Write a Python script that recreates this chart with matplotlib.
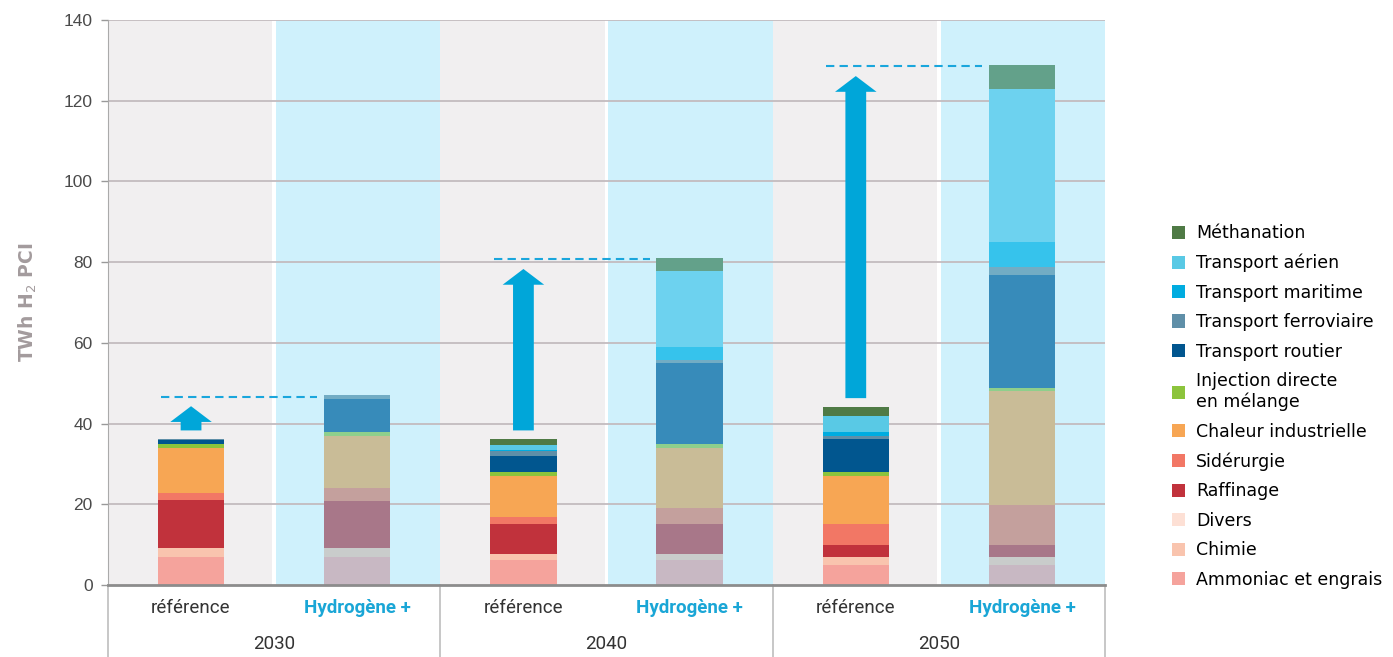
import matplotlib.pyplot as plt
import matplotlib.transforms as mtransforms
from matplotlib.patches import Patch
import numpy as np

# columns: référence / Hydrogène + for 2030, 2040, 2050
years = ['2030', '2040', '2050']
scenarios = ['référence', 'Hydrogène +']

categories = ['Ammoniac et engrais', 'Chimie', 'Divers', 'Raffinage', 'Sidérurgie',
              'Chaleur industrielle', 'Injection directe\nen mélange', 'Transport routier',
              'Transport ferroviaire', 'Transport maritime', 'Transport aérien', 'Méthanation']

ammoniac = [7.0, 7.0, 6.2, 6.2, 4.9, 4.9]
chimie = [2.1, 2.1, 1.6, 1.6, 2.0, 2.0]
divers = [0.0, 0.0, 0.0, 0.0, 0.0, 0.0]
raffinage = [12.0, 11.7, 7.3, 7.3, 3.1, 3.1]
siderurgie = [1.8, 3.3, 1.8, 4.1, 5.0, 9.8]
chaleur = [11.1, 12.9, 10.2, 14.8, 11.9, 28.2]
injection = [0.9, 0.8, 0.9, 0.9, 1.0, 0.9]
routier = [1.0, 8.2, 3.9, 20.0, 8.2, 28.0]
ferroviaire = [0.2, 1.1, 1.2, 0.9, 0.8, 2.0]
maritime = [0.0, 0.0, 0.4, 3.2, 1.0, 6.0]
aerien = [0.0, 0.0, 1.3, 18.8, 4.0, 38.1]
methanation = [0.0, 0.0, 1.3, 3.3, 2.2, 5.9]

series = [ammoniac, chimie, divers, raffinage, siderurgie, chaleur,
          injection, routier, ferroviaire, maritime, aerien, methanation]

# colours for "référence" bars (also legend) and muted ones for "Hydrogène +"
ref_colors = ['#f5a39c', '#f9c4ae', '#fde0d5', '#c1323c', '#f27765', '#f7a654',
              '#8cc43c', '#01568f', '#5f8fa8', '#00ace0', '#59c9e5', '#4f7a45']
h2_colors = ['#c8b8c3', '#c9cccb', '#e6dcdc', '#a87789', '#c4a09d', '#c9bc97',
             '#8ecf8c', '#378bba', '#72acc4', '#36c3ec', '#6dd2ef', '#63a18a']

fig = plt.figure(figsize=(13.93, 6.57), dpi=100)
ax = fig.add_axes([0.0775, 0.1096, 0.7158, 0.86])

x = np.arange(6) + 0.5
bar_w = 0.40

# panel backgrounds
for i in range(6):
    if i % 2 == 0:
        ax.axvspan(i, i + 0.99, color='#f1eff0', zorder=0, lw=0)
    else:
        ax.axvspan(i + 0.01, i + 1, color='#cff1fc', zorder=0, lw=0)

for yv in range(20, 141, 20):
    ax.axhline(yv, color='#c3bbbf', lw=1.3, zorder=1)

bottom = np.zeros(6)
for vals, rc, hc in zip(series, ref_colors, h2_colors):
    vals = np.array(vals)
    cols = [rc if i % 2 == 0 else hc for i in range(6)]
    ax.bar(x, vals, bar_w, bottom=bottom, color=cols, lw=0, zorder=3)
    bottom += vals
totals = bottom

# arrows and dashed lines
for k in range(3):
    r, h = 2 * k, 2 * k + 1
    y0 = totals[r] + 2.2
    y1 = totals[h] - 2.8
    ax.arrow(x[r], y0, 0, y1 - y0, width=0.125, head_width=0.25, head_length=3.9,
             length_includes_head=True, color='#00a6d9', lw=0, zorder=4)
    ax.plot([x[r] - bar_w / 2 + 0.02, x[h] - bar_w / 2 - 0.04], [totals[h] - 0.4] * 2,
            color='#1aa6dc', lw=1.5, dashes=(4, 2.5), zorder=4)

ax.set_xlim(0, 6)
ax.set_ylim(0, 140)
ax.set_yticks(range(0, 141, 20))
ax.set_xticks([])
ax.tick_params(axis='y', labelsize=12.5, labelcolor='#4a4a4a', color='#999999',
               length=5, width=1, pad=6)
for lab in ax.get_yticklabels():
    lab.set_family('Liberation Sans')
for s in ['top', 'right']:
    ax.spines[s].set_visible(False)
ax.spines['left'].set_color('#aaaaaa')
ax.spines['bottom'].set_color('#8c8c8c')
ax.spines['bottom'].set_linewidth(2)
ax.spines['bottom'].set_zorder(5)

ax.set_ylabel('TWh H$_2$ PCI', fontsize=13.5, fontweight='bold', color='#a39b9d', labelpad=18)

# category axis labels
trans = mtransforms.blended_transform_factory(ax.transData, ax.transAxes)
for i in range(6):
    if i % 2 == 0:
        ax.text(x[i], -0.04, scenarios[0], transform=trans, ha='center', va='center',
                fontsize=13.5, color='#333333', family='Roboto', clip_on=False)
    else:
        ax.text(x[i], -0.04, scenarios[1], transform=trans, ha='center', va='center',
                fontsize=13.5, color='#1aa6d6', family='Roboto', fontweight='bold', clip_on=False)
for k, yr in enumerate(years):
    ax.text(2 * k + 1, -0.105, yr, transform=trans, ha='center', va='center',
            fontsize=13.5, color='#333333', family='Roboto', clip_on=False)
for xs in [0, 2, 4, 6]:
    ax.plot([xs, xs], [0, -0.13], transform=trans, color='#bdbdbd', lw=1.2, clip_on=False)

# legend
handles = [Patch(facecolor=c, edgecolor='none') for c in ref_colors[::-1]]
fig.legend(handles, categories[::-1], loc='upper left', bbox_to_anchor=(0.835, 0.672),
           frameon=False, handlelength=0.78, handleheight=0.78,
           handletextpad=0.6, labelspacing=0.66, borderpad=0,
           prop={'family': 'DejaVu Sans', 'size': 12.5})

fig.savefig('out.png', dpi=100)
